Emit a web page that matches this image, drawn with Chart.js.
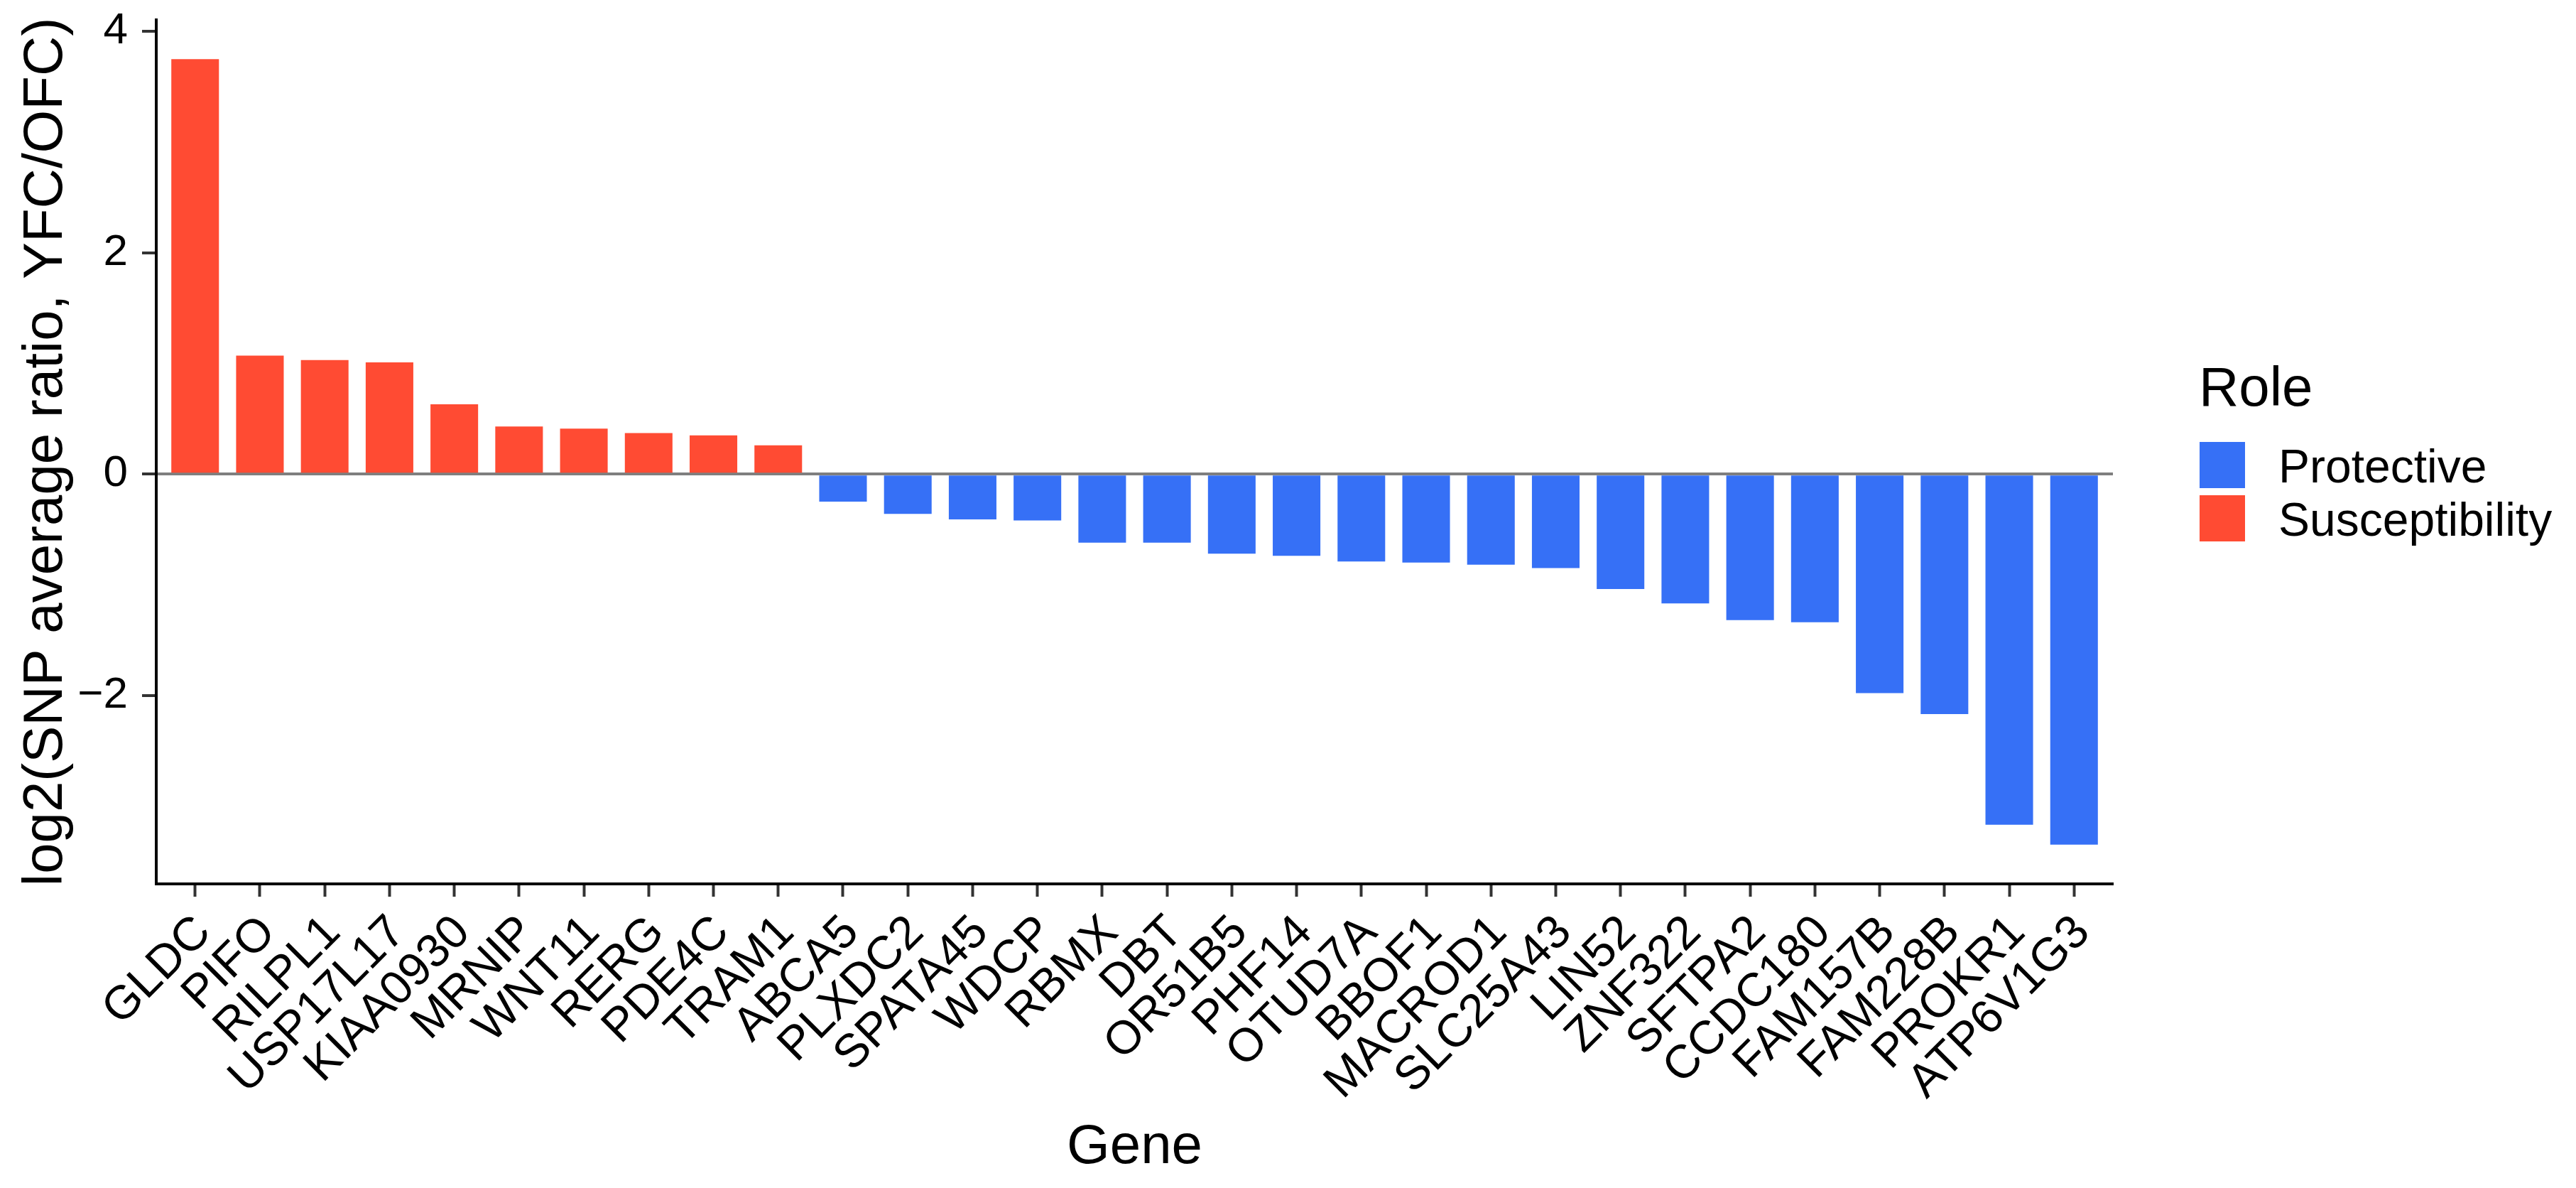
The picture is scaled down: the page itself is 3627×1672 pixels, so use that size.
<!DOCTYPE html>
<html>
<head>
<meta charset="utf-8">
<script src="https://cdn.jsdelivr.net/npm/chart.js@4/dist/chart.umd.min.js"></script>
<style>
  body { margin: 0; background: #fff; }
  #wrap { position: relative; width: 3627px; height: 1672px; font-family: "Liberation Sans", Arial, Helvetica, sans-serif; }
  #legend { position: absolute; left: 0; top: 0; }
  .lg-title { position: absolute; left: 3096px; top: 505px; font-size: 78px; line-height: 1; color: #000; white-space: nowrap; }
  .lg-key { position: absolute; left: 3097px; width: 64px; height: 65px; }
  .lg-text { position: absolute; left: 3208px; font-size: 66px; line-height: 1; color: #000; white-space: nowrap; }
</style>
</head>
<body>
<div id="wrap">
  <canvas id="geneChart" width="3627" height="1672"></canvas>
  <div id="legend"></div>
</div>
<script>
const genes = ['GLDC', 'PIFO', 'RILPL1', 'USP17L17', 'KIAA0930', 'MRNIP', 'WNT11', 'RERG', 'PDE4C', 'TRAM1',
    'ABCA5', 'PLXDC2', 'SPATA45', 'WDCP', 'RBMX', 'DBT', 'OR51B5', 'PHF14', 'OTUD7A', 'BBOF1',
    'MACROD1', 'SLC25A43', 'LIN52', 'ZNF322', 'SFTPA2', 'CCDC180', 'FAM157B', 'FAM228B', 'PROKR1', 'ATP6V1G3'];
const ratios = [3.75, 1.07, 1.03, 1.01, 0.63, 0.43, 0.41, 0.37, 0.35, 0.26,
    -0.25, -0.36, -0.41, -0.42, -0.62, -0.62, -0.72, -0.74, -0.79, -0.80,
    -0.82, -0.85, -1.04, -1.17, -1.32, -1.34, -1.98, -2.17, -3.17, -3.35];
const roles = ['Susceptibility', 'Susceptibility', 'Susceptibility', 'Susceptibility', 'Susceptibility',
    'Susceptibility', 'Susceptibility', 'Susceptibility', 'Susceptibility', 'Susceptibility',
    'Protective', 'Protective', 'Protective', 'Protective', 'Protective', 'Protective', 'Protective',
    'Protective', 'Protective', 'Protective', 'Protective', 'Protective', 'Protective', 'Protective',
    'Protective', 'Protective', 'Protective', 'Protective', 'Protective', 'Protective'];
const roleNames = ['Protective', 'Susceptibility'];
const yTicks = [-2, 0, 2, 4];

const roleColors = { Protective: '#3670F6', Susceptibility: '#FF4B33' };
const fontFamily = '"Liberation Sans", Arial, Helvetica, sans-serif';

// legend (ggplot style, to the right of the panel)
const legend = document.getElementById('legend');
legend.innerHTML = '<div class="lg-title">Role</div>';
roleNames.forEach((name, i) => {
    const key = document.createElement('div');
    key.className = 'lg-key';
    key.style.top = (622 + i * 75) + 'px';
    key.style.background = roleColors[name];
    legend.appendChild(key);
    const txt = document.createElement('div');
    txt.className = 'lg-text';
    txt.style.top = (623 + i * 75) + 'px';
    txt.textContent = name;
    legend.appendChild(txt);
});

// x is a linear index axis so the ends get ggplot's 0.6 category expansion
const geneChart = new Chart(document.getElementById('geneChart'), {
    type: 'bar',
    data: {
        datasets: [{
            data: genes.map((g, i) => ({ x: i, y: ratios[i] })),
            backgroundColor: roles.map(r => roleColors[r]),
            borderWidth: 0,
            barPercentage: 0.735,
            categoryPercentage: 1
        }]
    },
    options: {
        responsive: false,
        animation: false,
        devicePixelRatio: 1,
        layout: {
            padding: { left: 0, right: 652, top: 28, bottom: 0 }
        },
        plugins: {
            legend: { display: false },
            tooltip: { enabled: false }
        },
        scales: {
            x: {
                type: 'linear',
                min: -0.6,
                max: genes.length - 0.4,
                offset: false,
                afterBuildTicks: axis => { axis.ticks = genes.map((g, i) => ({ value: i })); },
                grid: {
                    display: true,
                    offset: false,
                    drawOnChartArea: false,
                    tickColor: '#333333',
                    tickLength: 18,
                    tickWidth: 4
                },
                border: { color: '#000000', width: 4 },
                ticks: {
                    color: '#000000',
                    font: { family: fontFamily, size: 66 },
                    minRotation: 45,
                    maxRotation: 45,
                    autoSkip: false,
                    padding: 12,
                    labelOffset: 12,
                    callback: v => genes[v]
                },
                title: {
                    display: true,
                    text: 'Gene',
                    color: '#000000',
                    font: { family: fontFamily, size: 78 },
                    padding: { top: 0, bottom: 10 }
                },
                afterFit: scale => {
                    scale.height = 428;
                    scale.paddingLeft = 0;
                    scale.paddingRight = 0;
                }
            },
            y: {
                min: -3.705,
                max: 4.105,
                z: 1,
                afterBuildTicks: axis => { axis.ticks = yTicks.map(v => ({ value: v })); },
                grid: {
                    color: ctx => ctx.tick && ctx.tick.value === 0 ? '#7f7f7f' : 'rgba(0,0,0,0)',
                    lineWidth: 4,
                    tickColor: '#333333',
                    tickLength: 20,
                    tickWidth: 4
                },
                border: { color: '#000000', width: 4 },
                ticks: {
                    color: '#000000',
                    font: { family: fontFamily, size: 62 },
                    padding: 20,
                    callback: v => v < 0 ? '\u2212' + Math.abs(v) : String(v)
                },
                title: {
                    display: true,
                    text: 'log2(SNP average ratio, YFC/OFC)',
                    color: '#000000',
                    font: { family: fontFamily, size: 78 },
                    padding: { top: 19, bottom: 0 }
                },
                afterFit: scale => {
                    scale.width = 220;
                    scale.paddingTop = 0;
                    scale.paddingBottom = 0;
                }
            }
        }
    }
});
</script>
</body>
</html>
